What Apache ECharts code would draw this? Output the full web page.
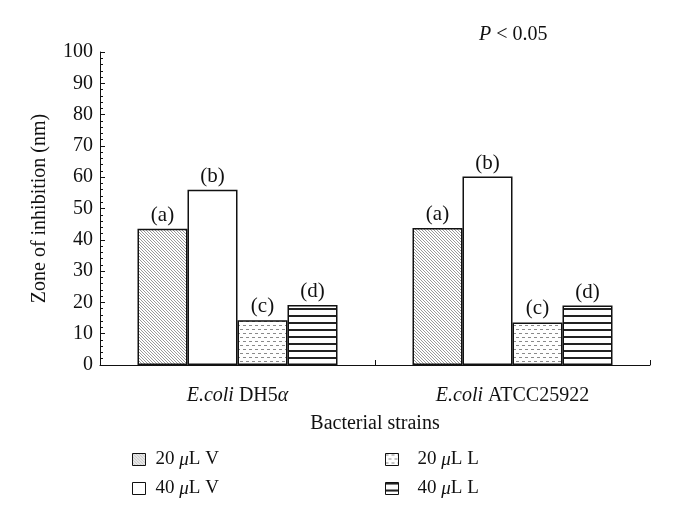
<!DOCTYPE html>
<html>
<head>
<meta charset="utf-8">
<script src="https://cdn.jsdelivr.net/npm/echarts@6/dist/echarts.min.js"></script>
<style>
  html, body { margin: 0; padding: 0; background: #fff; }
</style>
</head>
<body>
<div id="chart" style="width: 695px; height: 514px"></div>
<script>
var categories = ["E.coli DH5α", "E.coli ATCC25922"];
var v20 = [43.5, 43.8];
var v40 = [56.0, 60.2];
var l20 = [14.3, 13.6];
var l40 = [19.2, 19.0];
var letters = ["(a)", "(b)", "(c)", "(d)"];
var names = ["20 μL V", "40 μL V", "20 μL L", "40 μL L"];

var font = "Liberation Serif";

// fill patterns
function hatch() {
  var c = document.createElement("canvas");
  c.width = 6; c.height = 6;
  var g = c.getContext("2d");
  g.fillStyle = "#fff"; g.fillRect(0, 0, 6, 6);
  g.strokeStyle = "#9a9a9a"; g.lineWidth = 1;
  for (var i = -6; i <= 12; i += 3) {
    g.beginPath(); g.moveTo(i, 0); g.lineTo(i + 6, 6); g.stroke();
  }
  return c;
}
function dashes() {
  var c = document.createElement("canvas");
  c.width = 6; c.height = 8;
  var g = c.getContext("2d");
  g.fillStyle = "#fff"; g.fillRect(0, 0, 6, 8);
  g.fillStyle = "#8a8a8a";
  g.fillRect(0, 1, 3, 1);
  g.fillRect(3, 5, 3, 1);
  return c;
}
function stripes() {
  var c = document.createElement("canvas");
  c.width = 4; c.height = 7;
  var g = c.getContext("2d");
  g.fillStyle = "#fff"; g.fillRect(0, 0, 4, 7);
  g.fillStyle = "#222";
  g.fillRect(0, 0, 4, 2);
  return c;
}

var fills = [
  { image: hatch(), repeat: "repeat" },
  "#ffffff",
  { image: dashes(), repeat: "repeat" },
  { image: stripes(), repeat: "repeat" }
];
var values = [v20, v40, l20, l40];

var chart = echarts.init(document.getElementById("chart"));

var series = values.map(function (d, i) {
  return {
    name: names[i],
    type: "bar",
    data: d,
    barWidth: 50,
    barGap: "0%",
    itemStyle: {
      color: fills[i],
      borderColor: "#111",
      borderWidth: 1.5
    },
    label: {
      show: true,
      position: "top",
      distance: 3,
      formatter: letters[i],
      fontFamily: font,
      fontSize: 21,
      color: "#111"
    }
  };
});

function legendFmt(name) {
  return name.replace("μ", "{i|μ}");
}

var italic = { fontStyle: "italic", fontFamily: font, fontSize: 20, color: "#111" };
var italicSmall = { fontStyle: "italic", fontFamily: font, fontSize: 19, color: "#111" };

chart.setOption({
  animation: false,
  textStyle: { fontFamily: font },
  title: {
    text: "{i|P} < 0.05",
    left: 474,
    top: 20,
    textStyle: {
      fontFamily: font,
      fontSize: 20,
      fontWeight: "normal",
      color: "#111",
      rich: { i: italic }
    }
  },
  legend: [
    {
      data: [names[0], names[1]],
      orient: "vertical",
      left: 132,
      top: 450,
      padding: 0,
      itemWidth: 13,
      itemHeight: 12,
      itemGap: 10,
      icon: "rect",
      formatter: legendFmt,
      itemStyle: { borderColor: "#111", borderWidth: 1 },
      textStyle: {
        fontFamily: font, fontSize: 19, color: "#111", padding: [0, 0, 0, 5],
        rich: { i: italicSmall }
      }
    },
    {
      data: [names[2], names[3]],
      orient: "vertical",
      left: 385,
      top: 450,
      padding: 0,
      itemWidth: 13,
      itemHeight: 12,
      itemGap: 10,
      icon: "rect",
      formatter: legendFmt,
      itemStyle: { borderColor: "#111", borderWidth: 1 },
      textStyle: {
        fontFamily: font, fontSize: 19, color: "#111", padding: [0, 0, 0, 14],
        rich: { i: italicSmall }
      }
    }
  ],
  grid: { left: 100, right: 45, top: 52, bottom: 149 },
  xAxis: {
    type: "category",
    data: categories,
    name: "Bacterial strains",
    nameLocation: "middle",
    nameGap: 49,
    nameTextStyle: { fontFamily: font, fontSize: 20, color: "#111" },
    axisLine: { lineStyle: { color: "#111", width: 1 } },
    axisTick: { show: true, inside: true, length: 5, lineStyle: { color: "#111" } },
    axisLabel: {
      margin: 21,
      fontFamily: font,
      fontSize: 20,
      color: "#111",
      formatter: function (v) {
        return v.replace("E.coli", "{i|E.coli}").replace("α", "{i|α}");
      },
      rich: { i: italic }
    }
  },
  yAxis: {
    type: "value",
    min: 0,
    max: 100,
    interval: 10,
    name: "Zone of inhibition (nm)",
    nameLocation: "middle",
    nameGap: 50,
    nameTextStyle: { fontFamily: font, fontSize: 20, color: "#111" },
    axisLine: { show: true, lineStyle: { color: "#111", width: 1 } },
    axisTick: { show: true, inside: true, length: 5, lineStyle: { color: "#111" } },
    minorTick: { show: true, splitNumber: 5, length: 3, lineStyle: { color: "#111" } },
    splitLine: { show: false },
    axisLabel: { margin: 7, fontFamily: font, fontSize: 20, color: "#111" }
  },
  series: series
});
</script>
</body>
</html>
